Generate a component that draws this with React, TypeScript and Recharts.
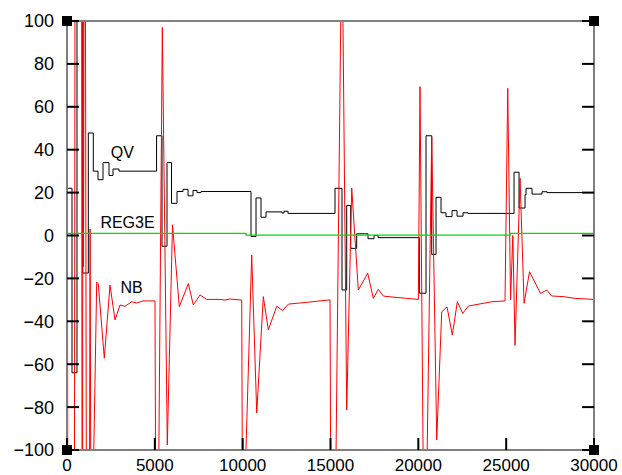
import React from 'react';
import { LineChart, Line, XAxis, YAxis, ReferenceDot } from 'recharts';

const X_TICKS = [0, 5000, 10000, 15000, 20000, 25000, 30000];
const Y_TICKS = [-100, -80, -60, -40, -20, 0, 20, 40, 60, 80, 100];

// QV (step series, value holds until next x)
const QV_X = [0, 285, 569, 893, 1214, 1497, 1765, 2049, 2391, 2619, 2960, 5100, 5408, 5693, 5949, 6262, 6604, 6889, 7173, 7401, 7629, 10475, 10760, 11044, 11329, 12240, 12354, 12581, 15257, 15655, 15923, 16150, 16490, 17136, 17478, 17705, 20056, 20438, 20762, 21007, 21292, 21576, 21918, 22203, 22544, 22829, 25448, 25733, 26074, 26131, 26472, 27041, 27326, 30000];
const QV_Y = [22, -64, 150, -17.5, 47.8, 30, 26, 34, 28, 31, 30, 46.5, -5, 34, 15, 20.5, 21.5, 18.5, 21, 20, 20.5, -0.5, 17.5, 8.5, 11, 10.5, 11.3, 10.3, 22, -25.4, 14, -6, 0.8, -1.5, 0, -1, -26.9, 46.5, -8.8, 17.8, 10.6, 8.8, 11.6, 9, 10.6, 10.3, 29.5, 12.8, 19, 22, 19.3, 20.4, 20, 20];

// NB
const NB_X = [0, 50, 420, 460, 830, 860, 885, 905, 940, 975, 1040, 1110, 1270, 1315, 1365, 1420, 1691, 1780, 2124, 2448, 2733, 3017, 3302, 3683, 3968, 4327, 5010,
  5060, 5180, 5426, 5710, 6006, 6393, 6906, 7190, 7572, 7953, 8710, 8995, 9280, 9946,
  9990, 10080, 10515, 10800, 11176, 11460, 11938, 12280, 12599, 13834, 14972,
  15030, 15250, 15650, 15923, 16208, 16584, 17119, 17438, 17722, 18007, 18275, 19339, 20000,
  20096, 20300, 20450, 20762, 21047, 21331, 21633, 21935, 22220, 22525, 22850, 23510, 24180, 24935,
  25090, 25250, 25380, 25505, 25790, 26020, 26330, 26960, 27310, 27590, 28250, 28920, 30000];
const NB_Y = [150, -150, -150, 150, 150, -150, -150, 150, -14.5, 150, 150, -150, -150, 3, -150, -150, -21.7, -22.5, -57.2, -23.1, -39.4, -32.4, -33, -30.9, -31.5, -30.5, -30.5,
  -150, -150, 97, -97.7, 5, -33.2, -22.4, -32.4, -27.7, -29.8, -29.8, -30.1, -29.6, -30.1,
  -130, -130, -9.1, -82.7, -28.5, -44, -33, -35, -32, -31, -30,
  -150, -150, 150, -81.3, 22.1, -25.4, -17.6, -29.3, -25.1, -28.2, -28.5, -29.3, -29.8,
  69.4, -130, -130, 46, -95.3, -35.6, -33.3, -46.4, -30.9, -36.3, -32.9, -31.9, -30.9, -30.5,
  68.6, -30, 0, -51.2, 26.7, -31.6, -16.9, -27, -25.4, -28.2, -28.5, -29.3, -29.8];

// REG3E (step series)
const REG3E_X = [0, 10190, 25220, 30000];
const REG3E_Y = [1, 0.2, 1, 1];

const SERIES_NAMES = ['QV', 'REG3E', 'NB'];
const NAME_X = [2490, 1900, 3040];
const NAME_Y = [36, 3.35, -27];

const X_MIN = 0;
const X_MAX = 30000;
const Y_MIN = -100;
const Y_MAX = 100;

const W = 622;
const H = 475;
const LEFT_W = 60;
const BOTTOM_H = 25;
const MARGIN = { top: 21, right: 28, bottom: 0, left: 7 };
const PLOT_L = MARGIN.left + LEFT_W;
const PLOT_T = MARGIN.top;
const PLOT_R = W - MARGIN.right;
const PLOT_B = H - MARGIN.bottom - BOTTOM_H;
const TICK_LEN = 12;
const TICK_W = 2;
const FONT = '"Liberation Sans", Arial, sans-serif';
const FRAME = '#808080';

const toPts = (xs: number[], ys: number[]) => xs.map((x, i) => ({ x, y: ys[i] }));
const qvData = toPts(QV_X, QV_Y);
const nbData = toPts(NB_X, NB_Y);
const regData = toPts(REG3E_X, REG3E_Y);

const fmtY = (v: number) => (v < 0 ? '\u2212' + Math.abs(v) : String(v));

const LeftTick = (props: any) => {
  const { y, payload } = props;
  return (
    <g>
      <line x1={PLOT_L} x2={PLOT_L + TICK_LEN} y1={y} y2={y} stroke="#000" strokeWidth={TICK_W} />
      <text x={PLOT_L - 13} y={y} dy="0.36em" textAnchor="end" fontSize={18} fontFamily={FONT} fill="#000">
        {fmtY(payload.value)}
      </text>
    </g>
  );
};

const BottomTick = (props: any) => {
  const { x, payload } = props;
  return (
    <g>
      <line x1={x} x2={x} y1={PLOT_B} y2={PLOT_B - TICK_LEN} stroke="#000" strokeWidth={TICK_W} />
      <text x={x} y={PLOT_B + 21} textAnchor="middle" fontSize={17} fontFamily={FONT} fill="#000">
        {String(payload.value)}
      </text>
    </g>
  );
};

const TopTick = (props: any) => {
  const { x } = props;
  return <line x1={x} x2={x} y1={PLOT_T} y2={PLOT_T + TICK_LEN} stroke="#000" strokeWidth={TICK_W} />;
};

const RightTick = (props: any) => {
  const { y } = props;
  return <line x1={PLOT_R - TICK_LEN} x2={PLOT_R} y1={y} y2={y} stroke="#000" strokeWidth={TICK_W} />;
};

const Corner = (p: any) => (
  <rect x={p.cx - 5} y={p.cy - 5} width={10} height={10} fill="#000" />
);

const makeName = (name: string) => (p: any) => (
  <text x={p.cx} y={p.cy} fontSize={16} fontFamily={FONT} fill="#000">
    {name}
  </text>
);

export default function App() {
  return (
    <div style={{ position: 'absolute', left: 0, top: 0 }}>
      <LineChart width={W} height={H} margin={MARGIN}>
        <XAxis
          xAxisId="b"
          dataKey="x"
          type="number"
          domain={[X_MIN, X_MAX]}
          ticks={X_TICKS}
          interval={0}
          allowDataOverflow
          height={BOTTOM_H}
          axisLine={{ stroke: FRAME, strokeWidth: 2 }}
          tickLine={false}
          tick={<BottomTick />}
        />
        <XAxis
          xAxisId="t"
          orientation="top"
          type="number"
          domain={[X_MIN, X_MAX]}
          ticks={X_TICKS}
          interval={0}
          allowDataOverflow
          mirror
          height={30}
          axisLine={{ stroke: FRAME, strokeWidth: 2 }}
          tickLine={false}
          tick={<TopTick />}
        />
        <YAxis
          yAxisId="l"
          type="number"
          domain={[Y_MIN, Y_MAX]}
          ticks={Y_TICKS}
          interval={0}
          allowDataOverflow
          width={LEFT_W}
          axisLine={{ stroke: FRAME, strokeWidth: 2 }}
          tickLine={false}
          tick={<LeftTick />}
        />
        <YAxis
          yAxisId="r"
          orientation="right"
          type="number"
          domain={[Y_MIN, Y_MAX]}
          ticks={Y_TICKS}
          interval={0}
          allowDataOverflow
          mirror
          width={30}
          axisLine={{ stroke: FRAME, strokeWidth: 2 }}
          tickLine={false}
          tick={<RightTick />}
        />
        <Line xAxisId="b" yAxisId="l" data={qvData} dataKey="y" type="stepAfter" stroke="#000" strokeWidth={1} dot={false} activeDot={false} isAnimationActive={false} />
        <Line xAxisId="b" yAxisId="l" data={nbData} dataKey="y" type="linear" stroke="#ff0000" strokeWidth={1} dot={false} activeDot={false} isAnimationActive={false} />
        <Line xAxisId="b" yAxisId="l" data={regData} dataKey="y" type="stepAfter" stroke="#00dd00" strokeWidth={1.2} dot={false} activeDot={false} isAnimationActive={false} />
        {SERIES_NAMES.map((n, i) => (
          <ReferenceDot key={n} xAxisId="b" yAxisId="l" x={NAME_X[i]} y={NAME_Y[i]} r={0} ifOverflow="visible" shape={makeName(n)} />
        ))}
        <ReferenceDot xAxisId="b" yAxisId="l" x={X_MIN} y={Y_MAX} ifOverflow="visible" shape={Corner} />
        <ReferenceDot xAxisId="b" yAxisId="l" x={X_MAX} y={Y_MAX} ifOverflow="visible" shape={Corner} />
        <ReferenceDot xAxisId="b" yAxisId="l" x={X_MIN} y={Y_MIN} ifOverflow="visible" shape={Corner} />
        <ReferenceDot xAxisId="b" yAxisId="l" x={X_MAX} y={Y_MIN} ifOverflow="visible" shape={Corner} />
      </LineChart>
    </div>
  );
}
